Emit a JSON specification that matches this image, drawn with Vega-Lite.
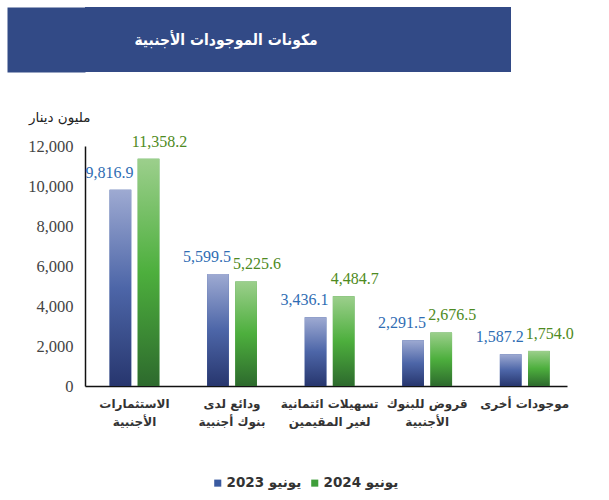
{
  "$schema": "https://vega.github.io/schema/vega-lite/v6.json",
  "background": "white",
  "padding": {"left": 27, "top": 7, "right": 5, "bottom": 5},
  "config": {"view": {"stroke": null}},
  "spacing": 38,
  "vconcat": [
    {
      "width": 426,
      "height": 65,
      "view": {"fill": "#324a86"},
      "data": {"values": [{"title": "مكونات الموجودات الأجنبية", "mid": 0}]},
      "mark": {"type": "text", "color": "white", "font": "DejaVu Sans Condensed, DejaVu Sans", "fontSize": 15.5, "fontWeight": "bold", "dx": -72},
      "encoding": {
        "text": {"field": "title"},
        "y": {
          "field": "mid",
          "type": "quantitative",
          "scale": {"domain": [-1, 1]},
          "axis": {"title": null, "labels": false, "ticks": false, "grid": false, "domainColor": "#324a86", "domainWidth": 78, "offset": 39}
        }
      }
    },
    {
      "width": 482,
      "height": 240,
      "data": {
        "values": [
          {"category": "الاستثمارات الأجنبية", "series": "يونيو 2023", "value": 9816.9},
          {"category": "الاستثمارات الأجنبية", "series": "يونيو 2024", "value": 11358.2},
          {"category": "ودائع لدى بنوك أجنبية", "series": "يونيو 2023", "value": 5599.5},
          {"category": "ودائع لدى بنوك أجنبية", "series": "يونيو 2024", "value": 5225.6},
          {"category": "تسهيلات ائتمانية لغير المقيمين", "series": "يونيو 2023", "value": 3436.1},
          {"category": "تسهيلات ائتمانية لغير المقيمين", "series": "يونيو 2024", "value": 4484.7},
          {"category": "قروض للبنوك الأجنبية", "series": "يونيو 2023", "value": 2291.5},
          {"category": "قروض للبنوك الأجنبية", "series": "يونيو 2024", "value": 2676.5},
          {"category": "موجودات أخرى", "series": "يونيو 2023", "value": 1587.2},
          {"category": "موجودات أخرى", "series": "يونيو 2024", "value": 1754.0}
        ]
      },
      "encoding": {
        "x": {
          "field": "category",
          "type": "nominal",
          "sort": null,
          "scale": {"paddingInner": 0.49, "paddingOuter": 0.215, "align": 0.586},
          "axis": {
            "title": null,
            "labelAngle": 0,
            "ticks": false,
            "domainColor": "#111",
            "domainWidth": 1.5,
            "labelFont": "DejaVu Sans",
            "labelFontWeight": "bold",
            "labelFontSize": 12,
            "labelColor": "#333",
            "labelPadding": 12,
            "labelLineHeight": 18,
            "labelExpr": "datum.value == 'الاستثمارات الأجنبية' ? ['الاستثمارات', 'الأجنبية'] : datum.value == 'ودائع لدى بنوك أجنبية' ? ['ودائع لدى', 'بنوك أجنبية'] : datum.value == 'تسهيلات ائتمانية لغير المقيمين' ? ['تسهيلات ائتمانية', 'لغير المقيمين'] : datum.value == 'قروض للبنوك الأجنبية' ? ['قروض للبنوك', 'الأجنبية'] : datum.value"
          }
        },
        "xOffset": {"field": "series", "type": "nominal", "sort": null, "scale": {"paddingInner": 0.23}},
        "y": {
          "field": "value",
          "type": "quantitative",
          "scale": {"domain": [0, 12000]},
          "axis": {
            "title": "مليون دينار",
            "titleAngle": 0,
            "titleAlign": "right",
            "titleBaseline": "middle",
            "titleX": 5,
            "titleY": -29,
            "titleFont": "DejaVu Sans",
            "titleFontSize": 13.5,
            "titleFontWeight": "normal",
            "titleColor": "#222",
            "values": [0, 2000, 4000, 6000, 8000, 10000, 12000],
            "format": ",d",
            "grid": false,
            "ticks": false,
            "domainColor": "#111",
            "domainWidth": 1.5,
            "labelFont": "Liberation Serif",
            "labelFontSize": 16.5,
            "labelColor": "#444",
            "labelPadding": 12
          }
        }
      },
      "layer": [
        {
          "mark": {"type": "bar"},
          "encoding": {
            "color": {
              "field": "series",
              "type": "nominal",
              "scale": {"domain": ["يونيو 2023", "يونيو 2024"], "range": ["#3a5aa0", "#3f9e3a"]},
              "legend": {
                "title": null,
                "orient": "none",
                "direction": "horizontal",
                "legendX": 126,
                "legendY": 469,
                "symbolType": "square",
                "symbolSize": 50,
                "symbolStrokeWidth": 0,
                "labelFont": "DejaVu Sans",
                "labelFontWeight": "bold",
                "labelFontSize": 13.5,
                "labelColor": "#333",
                "columnPadding": 6,
                "labelOffset": 2
              }
            }
          }
        },
        {
          "transform": [{"filter": "datum.series == 'يونيو 2023'"}],
          "mark": {
            "type": "bar",
            "color": {"gradient": "linear", "x1": 0, "y1": 0, "x2": 0, "y2": 1, "stops": [{"offset": 0, "color": "#9eaad2"}, {"offset": 0.5, "color": "#4d66a8"}, {"offset": 1, "color": "#27366e"}]}
          }
        },
        {
          "transform": [{"filter": "datum.series == 'يونيو 2024'"}],
          "mark": {
            "type": "bar",
            "color": {"gradient": "linear", "x1": 0, "y1": 0, "x2": 0, "y2": 1, "stops": [{"offset": 0, "color": "#9ccf8c"}, {"offset": 0.5, "color": "#4daf3d"}, {"offset": 1, "color": "#2d6a2d"}]}
          }
        },
        {
          "transform": [{"filter": "datum.series == 'يونيو 2023'"}],
          "mark": {"type": "text", "baseline": "bottom", "dy": -9, "dx": -11, "font": "Liberation Serif", "fontSize": 16, "color": "#2f6db3"},
          "encoding": {"text": {"field": "value", "type": "quantitative", "format": ",.1f"}}
        },
        {
          "transform": [{"filter": "datum.series == 'يونيو 2024'"}],
          "mark": {"type": "text", "baseline": "bottom", "dy": -9, "dx": 11, "font": "Liberation Serif", "fontSize": 16, "color": "#4e8a22"},
          "encoding": {"text": {"field": "value", "type": "quantitative", "format": ",.1f"}}
        }
      ]
    }
  ]
}
